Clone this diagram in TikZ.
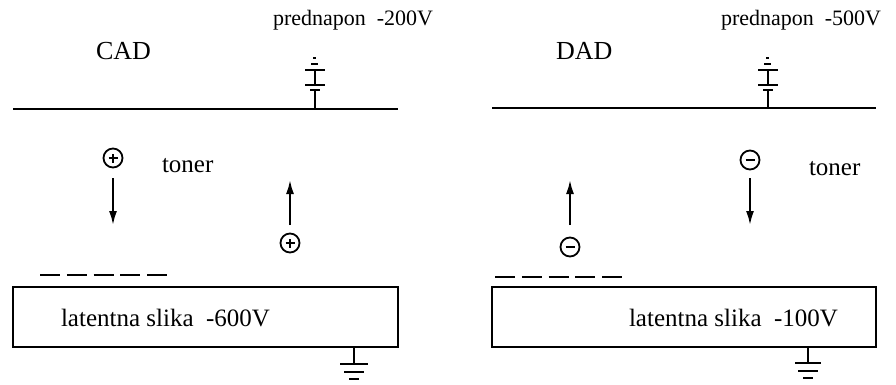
\documentclass[tikz,border=0pt]{standalone}
\usepackage{fontspec}
\setmainfont{Liberation Serif}
\usetikzlibrary{arrows.meta}
\tikzset{
  lbl/.style={inner sep=0pt, anchor=base west, font=\fontsize{25}{29}\selectfont},
  cadlbl/.style={inner sep=0pt, anchor=base west, font=\fontsize{26}{30}\selectfont},
  toplbl/.style={inner sep=0pt, anchor=base west, font=\fontsize{22}{26}\selectfont},
  charge/.style={circle, draw, line width=1.8pt, minimum size=19pt, inner sep=0pt},
  pluscharge/.style={charge, path picture={
      \draw[line width=1.8pt] ([xshift=-4.5pt]path picture bounding box.center) -- ([xshift=4.5pt]path picture bounding box.center);
      \draw[line width=1.8pt] ([yshift=-4.5pt]path picture bounding box.center) -- ([yshift=4.5pt]path picture bounding box.center);}},
  minuscharge/.style={charge, path picture={
      \draw[line width=1.8pt] ([xshift=-4.5pt]path picture bounding box.center) -- ([xshift=4.5pt]path picture bounding box.center);}},
  arr/.style={-{Latex[length=14pt,width=8pt]}, line width=2pt},
  electrode/.style={line width=2.2pt},
  chargeline/.style={dash pattern=on 20pt off 6.75pt, line width=2pt},
  drum/.style={draw, line width=2pt, inner sep=0pt},
}
\begin{document}
\begin{tikzpicture}[x=1pt,y=-1pt,line width=2pt]
\useasboundingbox (0,0) rectangle (896,385);

% ---------------- CAD ----------------
\node[toplbl] (bias1) at (272,26) {prednapon\ \ -200V};
\node[cadlbl] (cad) at (95,60) {CAD};
\coordinate (e1l) at (13,109);
\coordinate (e1r) at (398,109);
\draw[electrode] (e1l) -- (e1r);
% battery
\draw (315,109) -- (315,90.5);
\draw (310,90.5) -- (320,90.5);
\draw (305,85) -- (325,85);
\draw (315,85) -- (315,70);
\draw (305,70) -- (325,70);
\draw[line width=1.6pt] (311,64) -- (318,64);
\draw[line width=1.6pt] (313,58) -- (316,58);

\node[pluscharge] (p1) at (113,158) {};
\coordinate (a1s) at (113,178);
\coordinate (a1e) at (113,225);
\draw[arr] (a1s) -- (a1e);
\node[lbl] (toner1) at (161,172) {toner};

\node[pluscharge] (p2) at (290,243) {};
\coordinate (a2s) at (290,225);
\coordinate (a2e) at (290,180);
\draw[arr] (a2s) -- (a2e);

\coordinate (d1s) at (40,275);
\coordinate (d1e) at (167,275);
\draw[chargeline] (d1s) -- (d1e);

\node[drum, minimum width=385pt, minimum height=60pt] (drum1) at (205.5,317) {};
\node[lbl] (lat1) at (60,326) {latentna slika\ \ -600V};
\coordinate (g1) at (354,364);
\draw (drum1.south -| g1) -- (g1);
\draw (340,364) -- (368,364);
\draw (344,372) -- (364,372);
\draw (349,379) -- (359,379);

% ---------------- DAD ----------------
\node[toplbl] (bias2) at (720,26) {prednapon\ \ -500V};
\node[cadlbl] (dad) at (555,60) {DAD};
\coordinate (e2l) at (492,108);
\coordinate (e2r) at (876,108);
\draw[electrode] (e2l) -- (e2r);
% battery
\draw (768,108) -- (768,90.5);
\draw (763,90.5) -- (773,90.5);
\draw (758,85) -- (778,85);
\draw (768,85) -- (768,70);
\draw (758,70) -- (778,70);
\draw[line width=1.6pt] (764,64) -- (771,64);
\draw[line width=1.6pt] (766,58) -- (769,58);

\node[minuscharge] (m1) at (750,160) {};
\coordinate (a3s) at (750,178);
\coordinate (a3e) at (750,225);
\draw[arr] (a3s) -- (a3e);
\node[lbl] (toner2) at (808,175) {toner};

\node[minuscharge] (m2) at (570,247) {};
\coordinate (a4s) at (570,225);
\coordinate (a4e) at (570,180);
\draw[arr] (a4s) -- (a4e);

\coordinate (d2s) at (495,277);
\coordinate (d2e) at (622,277);
\draw[chargeline] (d2s) -- (d2e);

\node[drum, minimum width=384pt, minimum height=60pt] (drum2) at (684,317) {};
\node[lbl] (lat2) at (628,326) {latentna slika\ \ -100V};
\coordinate (g2) at (808,363);
\draw (drum2.south -| g2) -- (g2);
\draw (795,363) -- (821,363);
\draw (798,371) -- (818,371);
\draw (803,378) -- (813,378);
\end{tikzpicture}
\end{document}
